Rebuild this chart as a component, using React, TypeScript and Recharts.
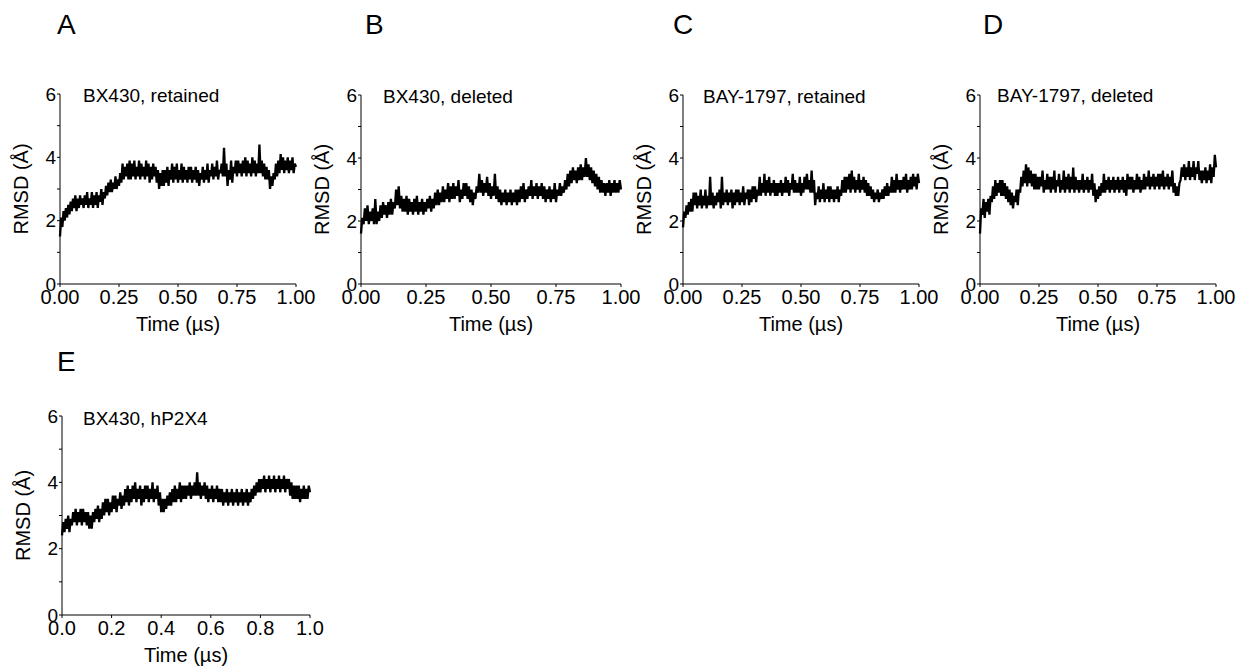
import { LineChart, Line, XAxis, YAxis } from "recharts";

// RMSD traces, one value every 0.005 µs (alternating lower/upper edge of the noisy band)
const BX430_RETAINED = [
  1.5, 2.1, 1.8, 2.3, 2.0, 2.4, 2.1, 2.5, 2.2, 2.6,
  2.3, 2.7, 2.4, 2.8, 2.3, 2.7, 2.4, 2.8, 2.5, 2.7,
  2.4, 2.8, 2.5, 2.9, 2.4, 2.7, 2.5, 2.9, 2.4, 2.8,
  2.5, 2.9, 2.4, 2.8, 2.6, 3.0, 2.5, 2.9, 2.7, 3.1,
  2.8, 3.2, 2.9, 3.3, 2.9, 3.2, 3.0, 3.4, 3.0, 3.3,
  3.1, 3.5, 3.2, 3.8, 3.3, 3.7, 3.4, 3.8, 3.3, 3.9,
  3.3, 3.8, 3.4, 3.9, 3.3, 3.7, 3.4, 3.9, 3.3, 3.8,
  3.4, 3.7, 3.3, 3.9, 3.4, 3.8, 3.2, 3.7, 3.3, 3.8,
  3.4, 3.7, 3.2, 3.6, 3.0, 3.5, 3.1, 3.6, 3.1, 3.6,
  3.2, 3.7, 3.1, 3.6, 3.3, 3.8, 3.2, 3.7, 3.3, 3.8,
  3.2, 3.6, 3.3, 3.8, 3.2, 3.7, 3.3, 3.6, 3.2, 3.7,
  3.3, 3.7, 3.2, 3.6, 3.3, 3.7, 3.2, 3.6, 3.1, 3.5,
  3.3, 3.7, 3.2, 3.6, 3.3, 3.8, 3.2, 3.6, 3.4, 3.8,
  3.3, 3.7, 3.4, 3.9, 3.3, 3.6, 3.5, 3.8, 3.4, 4.3,
  3.4, 3.8, 3.1, 3.6, 3.3, 3.9, 3.2, 3.7, 3.5, 3.9,
  3.4, 3.9, 3.5, 3.8, 3.4, 3.9, 3.5, 4.0, 3.4, 3.9,
  3.5, 3.8, 3.4, 4.0, 3.5, 3.9, 3.4, 3.8, 3.5, 4.4,
  3.5, 3.9, 3.4, 3.8, 3.3, 3.7, 3.3, 3.6, 3.0, 3.4,
  3.1, 3.5, 3.3, 3.8, 3.4, 3.9, 3.5, 4.1, 3.6, 4.0,
  3.5, 3.9, 3.6, 4.0, 3.5, 3.9, 3.6, 4.0, 3.5, 3.8,
  3.7,
];

const BX430_DELETED = [
  1.6, 2.1, 1.9, 2.4, 2.0, 2.5, 1.9, 2.3, 2.0, 2.4,
  1.9, 2.7, 1.9, 2.3, 2.0, 2.5, 2.1, 2.6, 2.2, 2.5,
  2.1, 2.6, 2.2, 2.7, 2.2, 2.6, 2.4, 3.0, 2.5, 3.1,
  2.4, 2.8, 2.3, 2.7, 2.3, 2.8, 2.2, 2.7, 2.3, 2.6,
  2.2, 2.7, 2.3, 2.8, 2.2, 2.6, 2.3, 2.7, 2.2, 2.6,
  2.3, 2.7, 2.4, 2.8, 2.3, 2.7, 2.4, 2.9, 2.5, 3.0,
  2.5, 2.9, 2.6, 3.1, 2.6, 3.0, 2.7, 3.2, 2.6, 3.1,
  2.7, 3.2, 2.7, 3.1, 2.8, 3.3, 2.6, 3.0, 2.7, 3.2,
  2.8, 3.2, 2.7, 3.1, 2.6, 3.0, 2.5, 2.9, 2.7, 3.1,
  2.9, 3.5, 2.9, 3.3, 2.8, 3.2, 2.9, 3.4, 2.8, 3.2,
  2.7, 3.1, 2.8, 3.5, 2.7, 3.1, 2.6, 3.0, 2.5, 2.9,
  2.6, 3.0, 2.5, 2.9, 2.6, 3.0, 2.5, 2.9, 2.6, 3.0,
  2.5, 3.0, 2.6, 3.1, 2.7, 3.2, 2.6, 3.0, 2.7, 3.1,
  2.8, 3.3, 2.7, 3.1, 2.8, 3.2, 2.7, 3.1, 2.8, 3.2,
  2.7, 3.1, 2.6, 3.0, 2.7, 3.1, 2.6, 3.0, 2.7, 3.2,
  2.6, 3.0, 2.8, 3.2, 2.8, 3.1, 2.9, 3.3, 3.0, 3.5,
  3.1, 3.6, 3.2, 3.7, 3.3, 3.6, 3.2, 3.7, 3.3, 3.8,
  3.3, 3.7, 3.4, 4.0, 3.4, 3.8, 3.3, 3.7, 3.2, 3.6,
  3.1, 3.5, 3.0, 3.4, 2.9, 3.3, 2.9, 3.2, 2.8, 3.2,
  2.9, 3.3, 2.8, 3.2, 2.9, 3.3, 2.9, 3.2, 2.9, 3.3,
  3.0,
];

const BAY_RETAINED = [
  1.8, 2.3, 2.1, 2.5, 2.2, 2.6, 2.3, 2.7, 2.3, 2.9,
  2.5, 2.9, 2.4, 2.8, 2.5, 3.0, 2.4, 2.8, 2.5, 3.0,
  2.4, 2.8, 2.5, 3.4, 2.5, 2.9, 2.4, 2.8, 2.5, 2.9,
  2.6, 3.0, 2.4, 3.4, 2.5, 2.9, 2.6, 3.0, 2.5, 2.9,
  2.6, 3.0, 2.4, 2.9, 2.5, 3.0, 2.6, 3.0, 2.5, 2.9,
  2.6, 3.1, 2.5, 2.9, 2.7, 3.0, 2.5, 3.0, 2.6, 3.1,
  2.7, 3.1, 2.6, 3.0, 2.8, 3.4, 2.8, 3.2, 2.9, 3.5,
  2.8, 3.3, 2.9, 3.4, 2.8, 3.2, 2.9, 3.3, 2.8, 3.2,
  2.8, 3.2, 2.9, 3.3, 2.8, 3.2, 2.9, 3.4, 2.9, 3.3,
  2.8, 3.2, 3.0, 3.5, 2.9, 3.3, 2.9, 3.2, 2.9, 3.4,
  2.8, 3.2, 2.9, 3.4, 3.0, 3.5, 3.0, 3.3, 2.9, 3.6,
  2.9, 3.3, 2.5, 2.9, 2.7, 3.1, 2.6, 3.0, 2.7, 3.2,
  2.6, 3.0, 2.7, 3.1, 2.6, 3.1, 2.7, 3.0, 2.6, 3.0,
  2.7, 3.1, 2.6, 3.0, 2.8, 3.3, 2.9, 3.4, 2.9, 3.4,
  3.0, 3.5, 2.9, 3.6, 3.0, 3.4, 2.9, 3.3, 3.0, 3.5,
  2.9, 3.3, 3.0, 3.4, 2.9, 3.3, 2.8, 3.2, 2.8, 3.1,
  2.7, 3.0, 2.6, 2.9, 2.7, 3.0, 2.6, 2.9, 2.7, 3.0,
  2.7, 3.1, 2.8, 3.2, 2.8, 3.1, 2.9, 3.4, 2.9, 3.3,
  2.9, 3.5, 3.0, 3.3, 2.9, 3.3, 3.0, 3.4, 3.0, 3.5,
  2.9, 3.3, 3.0, 3.4, 3.0, 3.5, 3.1, 3.4, 3.0, 3.5,
  3.2,
];

const BAY_DELETED = [
  1.6, 2.4, 2.2, 2.7, 2.1, 2.6, 2.3, 2.7, 2.2, 2.8,
  2.6, 3.1, 2.7, 3.3, 2.8, 3.2, 2.9, 3.3, 2.8, 3.3,
  2.8, 3.2, 2.7, 3.1, 2.6, 3.0, 2.5, 2.9, 2.4, 2.8,
  2.6, 3.0, 2.5, 3.0, 2.9, 3.4, 3.1, 3.6, 3.2, 3.8,
  3.1, 3.7, 3.2, 3.6, 3.1, 3.5, 3.0, 3.5, 3.0, 3.4,
  3.0, 3.4, 3.1, 3.6, 2.9, 3.3, 3.0, 3.5, 3.0, 3.4,
  2.9, 3.4, 3.0, 3.6, 2.9, 3.3, 3.1, 3.5, 2.9, 3.3,
  3.0, 3.6, 2.9, 3.4, 3.0, 3.5, 2.9, 3.4, 3.0, 3.7,
  2.9, 3.4, 3.0, 3.3, 2.9, 3.3, 3.0, 3.5, 2.9, 3.3,
  3.0, 3.4, 2.9, 3.3, 3.0, 3.5, 2.8, 3.2, 2.6, 3.0,
  2.7, 3.1, 2.8, 3.2, 2.9, 3.5, 2.9, 3.3, 3.0, 3.4,
  2.9, 3.3, 3.0, 3.4, 2.9, 3.3, 3.0, 3.4, 2.9, 3.3,
  3.0, 3.4, 2.9, 3.3, 2.8, 3.5, 3.0, 3.4, 3.0, 3.4,
  2.9, 3.3, 3.0, 3.5, 3.0, 3.4, 2.9, 3.3, 3.0, 3.5,
  3.0, 3.4, 3.1, 3.6, 3.0, 3.4, 3.1, 3.5, 3.0, 3.4,
  3.1, 3.5, 3.0, 3.5, 3.1, 3.6, 3.0, 3.4, 3.1, 3.5,
  3.0, 3.4, 3.1, 3.6, 2.9, 3.2, 2.8, 3.1, 2.8, 3.2,
  3.3, 3.7, 3.4, 3.8, 3.3, 3.7, 3.4, 3.9, 3.3, 3.7,
  3.4, 3.9, 3.3, 3.7, 3.5, 3.9, 3.3, 3.6, 3.2, 3.6,
  3.3, 3.7, 3.2, 3.6, 3.3, 3.8, 3.2, 3.7, 3.4, 4.1,
  3.7,
];

const BX430_HP2X4 = [
  2.4, 2.8, 2.5, 2.9, 2.6, 3.0, 2.5, 2.9, 2.7, 3.1,
  2.8, 3.2, 2.7, 3.1, 2.8, 3.2, 2.7, 3.2, 2.8, 3.1,
  2.7, 3.1, 2.6, 3.0, 2.6, 3.1, 2.8, 3.2, 2.9, 3.3,
  2.8, 3.2, 2.9, 3.4, 3.0, 3.5, 3.1, 3.5, 3.0, 3.4,
  3.1, 3.6, 3.2, 3.6, 3.1, 3.5, 3.3, 3.7, 3.2, 3.6,
  3.3, 3.8, 3.4, 3.9, 3.3, 3.8, 3.4, 3.9, 3.5, 4.0,
  3.4, 3.8, 3.5, 3.9, 3.3, 3.8, 3.4, 3.9, 3.5, 3.9,
  3.4, 3.8, 3.5, 4.0, 3.4, 3.8, 3.5, 3.9, 3.3, 3.7,
  3.1, 3.5, 3.1, 3.5, 3.2, 3.6, 3.3, 3.7, 3.3, 3.8,
  3.4, 3.9, 3.4, 3.8, 3.5, 4.0, 3.4, 3.9, 3.5, 3.9,
  3.5, 3.9, 3.6, 4.0, 3.5, 3.9, 3.6, 4.0, 3.6, 4.3,
  3.6, 4.0, 3.5, 3.9, 3.6, 4.0, 3.5, 3.9, 3.4, 3.8,
  3.5, 3.9, 3.4, 3.8, 3.5, 3.9, 3.4, 3.8, 3.4, 3.8,
  3.3, 3.7, 3.4, 3.8, 3.3, 3.7, 3.4, 3.8, 3.3, 3.7,
  3.4, 3.8, 3.3, 3.7, 3.4, 3.8, 3.3, 3.7, 3.4, 3.8,
  3.3, 3.7, 3.4, 3.8, 3.5, 3.9, 3.6, 4.0, 3.7, 4.1,
  3.7, 4.1, 3.8, 4.2, 3.7, 4.1, 3.8, 4.2, 3.7, 4.1,
  3.8, 4.2, 3.7, 4.1, 3.8, 4.2, 3.7, 4.1, 3.8, 4.2,
  3.7, 4.1, 3.8, 4.1, 3.6, 4.0, 3.5, 3.9, 3.5, 3.9,
  3.5, 3.9, 3.4, 3.8, 3.5, 3.9, 3.5, 3.8, 3.5, 3.9,
  3.7,
];

// sampling grid of the simulation time (µs)
const TIME = BX430_RETAINED.map((_, i) => i / 200);

const Y_TICKS = [0, 1, 2, 3, 4, 5, 6];
const X_TICKS_QUARTER = [0, 0.25, 0.5, 0.75, 1];
const X_TICKS_FIFTH = [0, 0.2, 0.4, 0.6, 0.8, 1];

const PANELS = [
  { letter: "A", title: "BX430, retained", values: BX430_RETAINED, ticks: X_TICKS_QUARTER, digits: 2 },
  { letter: "B", title: "BX430, deleted", values: BX430_DELETED, ticks: X_TICKS_QUARTER, digits: 2 },
  { letter: "C", title: "BAY-1797, retained", values: BAY_RETAINED, ticks: X_TICKS_QUARTER, digits: 2 },
  { letter: "D", title: "BAY-1797, deleted", values: BAY_DELETED, ticks: X_TICKS_QUARTER, digits: 2 },
  { letter: "E", title: "BX430, hP2X4", values: BX430_HP2X4, ticks: X_TICKS_FIFTH, digits: 1 },
];

// plot-area rectangles, letter and title placement (page pixels)
const LAYOUT = [
  { left: 60, top: 94, width: 236, height: 190, letterX: 57, letterY: 34, titleX: 83, titleY: 102 },
  { left: 361, top: 95, width: 260, height: 189, letterX: 365, letterY: 34, titleX: 383, titleY: 103 },
  { left: 683, top: 95, width: 236, height: 189, letterX: 673, letterY: 34, titleX: 703, titleY: 103 },
  { left: 980, top: 95, width: 236, height: 189, letterX: 983, letterY: 34, titleX: 997, titleY: 102 },
  { left: 62, top: 416, width: 248, height: 199, letterX: 57, letterY: 371, titleX: 83, titleY: 425 },
];

const FONT = "Arial, 'Liberation Sans', Helvetica, sans-serif";
const Y_AXIS_W = 78;
const X_AXIS_H = 80;
const M_TOP = 20;
const M_RIGHT = 32;

function Panel({ panel, box }: { panel: (typeof PANELS)[number]; box: (typeof LAYOUT)[number] }) {
  const data = TIME.map((t, i) => ({ t, rmsd: panel.values[i] }));
  return (
    <div style={{ position: "absolute", left: box.left - Y_AXIS_W, top: box.top - M_TOP }}>
      <LineChart
        width={Y_AXIS_W + box.width + M_RIGHT}
        height={M_TOP + box.height + X_AXIS_H}
        data={data}
        margin={{ top: M_TOP, right: M_RIGHT, bottom: 0, left: 0 }}
        style={{ fontFamily: FONT }}
      >
        <XAxis
          dataKey="t"
          type="number"
          domain={[0, 1]}
          ticks={panel.ticks}
          tickFormatter={(v: number) => v.toFixed(panel.digits)}
          height={X_AXIS_H}
          tickSize={3}
          tickMargin={3}
          interval={0}
          stroke="#000"
          tick={{ fill: "#000", fontSize: 20 }}
          label={{ value: "Time (µs)", position: "center", fill: "#000", fontSize: 20 }}
        />
        <YAxis
          type="number"
          domain={[0, 6]}
          ticks={Y_TICKS}
          tickFormatter={(v: number) => (v % 2 === 0 ? String(v) : "")}
          width={Y_AXIS_W}
          tickSize={3}
          tickMargin={1}
          interval={0}
          stroke="#000"
          tick={{ fill: "#000", fontSize: 19 }}
          label={{ value: "RMSD (Å)", angle: -90, position: "center", fill: "#000", fontSize: 20 }}
        />
        <Line
          type="linear"
          dataKey="rmsd"
          stroke="#000"
          strokeWidth={2.3}
          dot={false}
          isAnimationActive={false}
        />
      </LineChart>
    </div>
  );
}

export default function App() {
  return (
    <div
      style={{
        position: "absolute",
        left: 0,
        top: 0,
        width: 1247,
        height: 671,
        background: "#fff",
        fontFamily: FONT,
        overflow: "hidden",
      }}
    >
      {PANELS.map((p, i) => (
        <Panel key={p.letter} panel={p} box={LAYOUT[i]} />
      ))}
      <svg
        width={1247}
        height={671}
        style={{ position: "absolute", left: 0, top: 0, pointerEvents: "none" }}
      >
        {PANELS.map((p, i) => (
          <g key={p.letter} fontFamily={FONT} fill="#000">
            <text x={LAYOUT[i].letterX} y={LAYOUT[i].letterY} fontSize={28}>
              {p.letter}
            </text>
            <text x={LAYOUT[i].titleX} y={LAYOUT[i].titleY} fontSize={19}>
              {p.title}
            </text>
          </g>
        ))}
      </svg>
    </div>
  );
}
